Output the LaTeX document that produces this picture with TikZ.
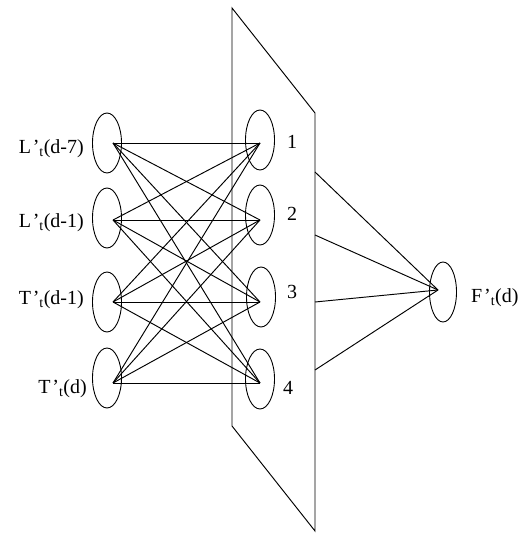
\documentclass[tikz,border=0pt]{standalone}
\usepackage{fontspec}
\setmainfont{Liberation Serif}
\usetikzlibrary{shapes.geometric}
\newcommand\nlab[2]{#1\kern1.8pt’\textsubscript{t}(#2)}
\begin{document}
\begin{tikzpicture}[x=1pt,y=-1pt,
  neuron/.style={draw, ellipse, minimum width=29pt, minimum height=60pt, inner sep=0pt, line width=0.9pt},
  wire/.style={line width=0.95pt},
  lbl/.style={font=\fontsize{20}{23}\selectfont, inner sep=0pt}]
\useasboundingbox (0,0) rectangle (527,534);
% plane
\draw[wire] (232,8) coordinate (p1) -- (315,113) coordinate (p2) -- (315,531) coordinate (p3) -- (232,426) coordinate (p4) -- cycle;
% input ellipses
\node[neuron] (i1) at (107,143) {};
\node[neuron] (i2) at (107,218) {};
\node[neuron] (i3) at (107,302) {};
\node[neuron] (i4) at (107,378) {};
% hidden ellipses
\node[neuron] (h1) at (260,140) {};
\node[neuron] (h2) at (260,215) {};
\node[neuron] (h3) at (261,297) {};
\node[neuron] (h4) at (260,379) {};
% output ellipse
\node[neuron, minimum width=27pt] (o) at (443,292) {};
% connection points
\coordinate (a1) at (113,143); \coordinate (b1) at (260,143);
\coordinate (a2) at (113,220); \coordinate (b2) at (260,220);
\coordinate (a3) at (113,302); \coordinate (b3) at (260,302);
\coordinate (a4) at (113,383); \coordinate (b4) at (260,383);
\coordinate (f) at (438,290);
\coordinate (e1) at (315,172);
\coordinate (e2) at (315,235);
\coordinate (e3) at (315,302);
\coordinate (e4) at (315,370);
\foreach \i in {1,2,3,4}{
  \foreach \j in {1,2,3,4}{
    \draw[wire] (a\i) -- (b\j);
  }
  \draw[wire] (e\i) -- (f);
}
% labels
\node[lbl, anchor=base east] (l1) at (84,153.5) {\nlab{L}{d-7}};
\node[lbl, anchor=base east] (l2) at (84,227.5) {\nlab{L}{d-1}};
\node[lbl, anchor=base east] (l3) at (84,304.5) {\nlab{T}{d-1}};
\node[lbl, anchor=base east] (l4) at (87,393.5) {\nlab{T}{d}};
\node[lbl, anchor=base west] (n1) at (287,149) {1};
\node[lbl, anchor=base west] (n2) at (287,221) {2};
\node[lbl, anchor=base west] (n3) at (287,298) {3};
\node[lbl, anchor=base west] (n4) at (283,394) {4};
\node[lbl, anchor=base west] (lo) at (471,302) {\nlab{F}{d}};
\end{tikzpicture}
\end{document}
